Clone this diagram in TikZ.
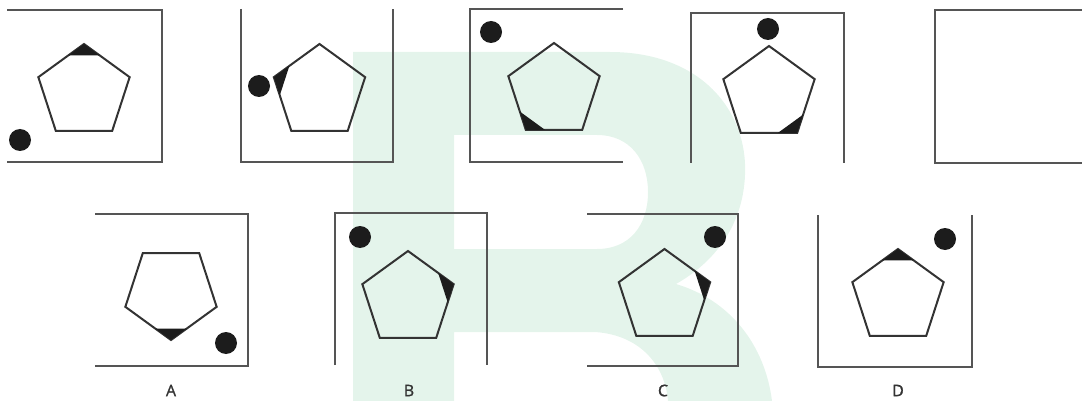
\documentclass[tikz,border=0pt]{standalone}
\usepackage{fontspec}
\setmainfont{Open Sans}
\newfontfamily\labfont{Open Sans}[FakeBold=1.2]
\usetikzlibrary{shapes.geometric,calc}
\definecolor{wm}{RGB}{228,244,235}
\definecolor{framec}{RGB}{85,85,85}
\definecolor{pentc}{RGB}{51,51,51}
\definecolor{ink}{RGB}{28,28,28}
\tikzset{
  frameline/.style={draw=framec,line width=2.2pt,line cap=butt,line join=miter},
  pent/.style={regular polygon,regular polygon sides=5,draw=pentc,line width=2pt,
    minimum size=96pt,inner sep=0pt,outer sep=0pt},
  dot/.style={circle,fill=ink,minimum size=22pt,inner sep=0pt,outer sep=0pt},
  lab/.style={font=\labfont\fontsize{16pt}{16pt}\selectfont,text=pentc,inner sep=0pt}
}
\newcommand{\blacktip}[4]{% node, corner, neighbour1, neighbour2
  \fill[ink] (#1.corner #2) -- ($(#1.corner #2)!0.34!(#1.corner #3)$) --
    ($(#1.corner #2)!0.34!(#1.corner #4)$) -- cycle;}
\begin{document}
\begin{tikzpicture}[x=1pt,y=-1pt]
\useasboundingbox (0,0) rectangle (1082,401);
% watermark
\fill[wm,even odd rule]
  (353,52) -- (610,52) .. controls (700,52) and (748,110) .. (745,175)
  .. controls (743,225) and (715,262) .. (676,284)
  .. controls (730,300) and (765,345) .. (772,401) -- (353,401) -- cycle
  (454,135) -- (597,135) .. controls (630,135) and (648,160) .. (648,192)
  .. controls (648,225) and (630,249) .. (597,249) -- (454,249) -- cycle
  (454,332) -- (595,332) .. controls (640,335) and (665,365) .. (668,401)
  -- (454,401) -- cycle;
% ---- row 1 ----
\draw[frameline] (7,10) -- (162,10) -- (162,162) -- (7,162);
\node[pent] (p1) at (84,92) {};
\blacktip{p1}{1}{2}{5}
\node[dot] (c1) at (20,140) {};

\draw[frameline] (241,9) -- (241,162) -- (393,162) -- (393,9);
\node[pent] (p2) at (319.5,92) {};
\blacktip{p2}{2}{1}{3}
\node[dot] (c2) at (259,86) {};

\draw[frameline] (623,9) -- (470,9) -- (470,162) -- (623,162);
\node[pent] (p3) at (554,91) {};
\blacktip{p3}{3}{2}{4}
\node[dot] (c3) at (491,32) {};

\draw[frameline] (691,163) -- (691,13) -- (844,13) -- (844,163);
\node[pent] (p4) at (769,94) {};
\blacktip{p4}{4}{3}{5}
\node[dot] (c4) at (768,29) {};

\draw[frameline] (1082,10) -- (935,10) -- (935,163) -- (1082,163);
% ---- row 2 ----
\draw[frameline] (95,214) -- (248,214) -- (248,366) -- (95,366);
\node[pent,shape border rotate=180] (pa) at (171,292) {};
\blacktip{pa}{1}{2}{5}
\node[dot] (ca) at (226,343) {};
\node[lab] (la) at (171,390.5) {A};

\draw[frameline] (335,365) -- (335,213) -- (487,213) -- (487,365);
\node[pent] (pb) at (408,299) {};
\blacktip{pb}{5}{1}{4}
\node[dot] (cb) at (360,237) {};
\node[lab] (lb) at (409,390.5) {B};

\draw[frameline] (587,214) -- (738,214) -- (738,366) -- (587,366);
\node[pent] (pc) at (664.5,297) {};
\blacktip{pc}{5}{1}{4}
\node[dot] (cc) at (715,237) {};
\node[lab] (lc) at (663,390.5) {C};

\draw[frameline] (818,215) -- (818,367) -- (972,367) -- (972,215);
\node[pent] (pd) at (898,297) {};
\blacktip{pd}{1}{2}{5}
\node[dot] (cd) at (945,239) {};
\node[lab] (ld) at (898,390.5) {D};
\end{tikzpicture}
\end{document}
